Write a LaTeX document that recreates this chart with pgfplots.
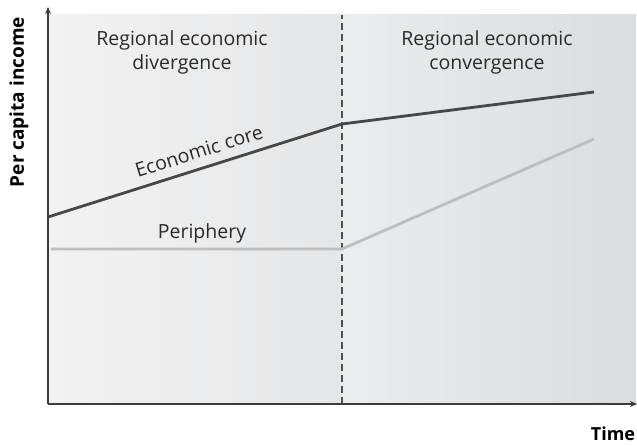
\documentclass[border=0pt]{standalone}
\usepackage{pgfplots}
\pgfplotsset{compat=1.18}
\usepackage{fontspec}
\setmainfont{Open Sans}
\usetikzlibrary{arrows.meta}

\definecolor{corecol}{HTML}{474747}
\definecolor{pericol}{HTML}{BEBEBE}
\definecolor{axiscol}{HTML}{3C3C3C}
\definecolor{txtcol}{HTML}{2A2A2A}

\begin{document}
\begin{tikzpicture}
  \useasboundingbox (0,0) rectangle (637pt,445pt);
  \begin{axis}[
      at={(48pt,41pt)}, anchor=south west,
      scale only axis,
      width=588pt, height=389pt,
      xmin=48, xmax=636,
      ymin=0, ymax=389,
      axis lines=none,
      ticks=none,
      clip=false,
    ]
    % shaded backgrounds of the two phases
    \fill[left color={rgb,255:red,242;green,242;blue,243},
          right color={rgb,255:red,229;green,230;blue,231}]
      (axis cs:48,0) rectangle (axis cs:342,389);
    \fill[left color={rgb,255:red,235;green,236;blue,237},
          right color={rgb,255:red,219;green,220;blue,222}]
      (axis cs:342,0) rectangle (axis cs:636,389);

    % phase boundary
    \draw[color=axiscol!90, line width=1.1pt, dash pattern=on 7pt off 4pt]
      (axis cs:342,0) -- (axis cs:342,389);

    % Series: Periphery
    \addplot[color=pericol, line width=2.8pt, line cap=butt] coordinates {
      (51, 155) (342, 155) (594, 265)
    };

    % Series: Economic core
    \addplot[color=corecol, line width=2.8pt, line cap=butt] coordinates {
      (48, 187) (342, 280) (594, 312)
    };

    % axes
    \draw[axiscol, line width=1.4pt, -{Stealth[length=7pt,width=6pt]}]
      (axis cs:48,0) -- (axis cs:48,397);
    \draw[axiscol, line width=1.4pt, -{Stealth[length=7pt,width=6pt]}]
      (axis cs:48,0) -- (axis cs:637,0);

    % texts
    \node[txtcol, font=\fontsize{19.5}{24}\selectfont, align=center]
      at (axis cs:182,352) {Regional economic\\divergence};
    \node[txtcol, font=\fontsize{19.5}{24}\selectfont, align=center]
      at (axis cs:487,352) {Regional economic\\convergence};
    \node[txtcol, font=\fontsize{19.5}{24}\selectfont, rotate=17.4]
      at (axis cs:199,253) {Economic core};
    \node[txtcol, font=\fontsize{19.5}{24}\selectfont]
      at (axis cs:202,171) {Periphery};

    \node[black, font=\bfseries\fontsize{19}{22}\selectfont, rotate=90]
      at (axis cs:19,302) {Per capita income};
    \node[black, font=\bfseries\fontsize{18}{22}\selectfont]
      at (axis cs:613,-30) {Time};
  \end{axis}
\end{tikzpicture}
\end{document}
